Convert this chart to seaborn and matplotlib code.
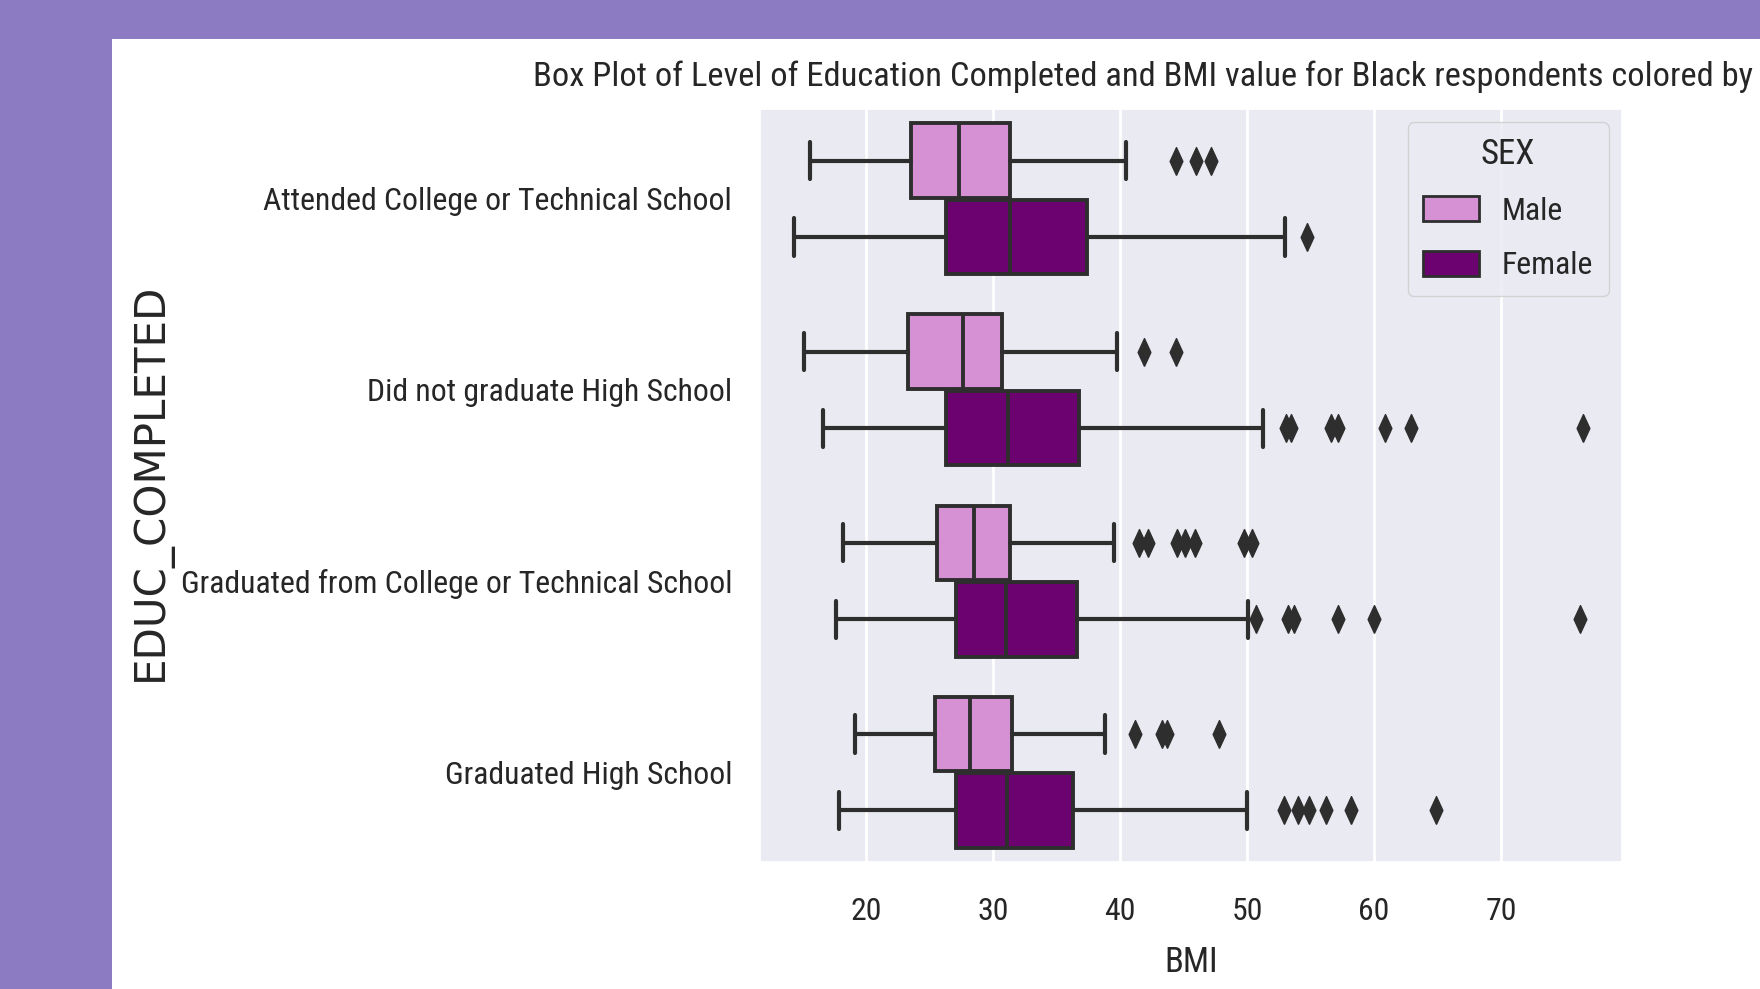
import matplotlib
matplotlib.use("Agg")
import matplotlib.pyplot as plt
import seaborn as sns
from matplotlib import font_manager
from matplotlib.patches import Patch, Rectangle

# ---- data -------------------------------------------------------------
categories = [
    "Attended College or Technical School",
    "Did not graduate High School",
    "Graduated from College or Technical School",
    "Graduated High School",
]
sexes = ["Male", "Female"]
bmi_ticks = [20, 30, 40, 50, 60, 70]

male_whislo = [15.6, 15.1, 18.2, 19.1]
male_q1 = [23.5, 23.3, 25.6, 25.4]
male_med = [27.3, 27.6, 28.5, 28.2]
male_q3 = [31.3, 30.7, 31.3, 31.5]
male_whishi = [40.5, 39.8, 39.5, 38.8]
male_fliers = [
    [44.4, 46.0, 47.2],
    [41.9, 44.4],
    [41.5, 42.2, 44.5, 45.1, 45.9, 49.8, 50.4],
    [41.2, 43.3, 43.7, 47.8],
]

female_whislo = [14.3, 16.6, 17.6, 17.9]
female_q1 = [26.3, 26.3, 27.1, 27.1]
female_med = [31.3, 31.2, 31.0, 31.1]
female_q3 = [37.4, 36.8, 36.6, 36.3]
female_whishi = [53.0, 51.3, 50.1, 50.0]
female_fliers = [
    [54.7],
    [53.1, 53.5, 56.6, 57.2, 60.9, 62.9, 76.5],
    [50.7, 53.2, 53.7, 57.2, 60.0, 76.2],
    [52.9, 54.0, 54.9, 56.2, 58.2, 64.9],
]

title = ("Box Plot of Level of Education Completed and BMI value "
         "for Black respondents colored by")

# ---- style ------------------------------------------------------------
sns.set_theme(style="darkgrid")


def narrow_face():
    """Pick an installed narrow sans face (name, stretch), else plain Liberation Sans."""
    prefs = ["Liberation Sans Narrow", "Arial Narrow", "Roboto Condensed",
             "Open Sans Condensed", "Noto Sans", "DejaVu Sans", "Open Sans", "Roboto"]
    found = {}
    for f in font_manager.fontManager.ttflist:
        is_narrow = (f.stretch in ("condensed", "semi-condensed", "extra-condensed")
                     or "Narrow" in f.name or "Condensed" in f.name)
        try:
            light_enough = int(f.weight) < 600
        except (TypeError, ValueError):
            light_enough = str(f.weight).lower() in ("normal", "regular", "book", "medium")
        if is_narrow and light_enough and f.style == "normal":
            found.setdefault(f.name, f.stretch)
    for p in prefs:
        if p in found:
            return p, found[p]
    if found:
        name = next(iter(found))
        return name, found[name]
    return "Liberation Sans", "normal"


face, stretch = narrow_face()
plt.rcParams["font.family"] = [face, "DejaVu Sans"]
plt.rcParams["font.stretch"] = stretch

palette = {"Male": "#d690d4", "Female": "#6c0270"}
line_gray = "#2e2e2e"
diamond = [(0, -1), (0.46, 0), (0, 1), (-0.46, 0), (0, -1)]

# ---- figure -----------------------------------------------------------
W, H = 1760, 989
DPI = 100
fig = plt.figure(figsize=(W / DPI, H / DPI), dpi=DPI, facecolor="#8c7bc2")
fig.add_artist(Rectangle((112 / W, 0), 1, 1 - 39 / H, transform=fig.transFigure,
                         facecolor="white", edgecolor="none", zorder=-1))

ax_left, ax_right, ax_top, ax_bottom = 760, 1622, 109, 862
ax = fig.add_axes([ax_left / W, 1 - ax_bottom / H,
                   (ax_right - ax_left) / W, (ax_bottom - ax_top) / H])

series = {
    "Male": (male_whislo, male_q1, male_med, male_q3, male_whishi, male_fliers, -0.2),
    "Female": (female_whislo, female_q1, female_med, female_q3, female_whishi, female_fliers, 0.2),
}

for sex in sexes:
    lo, q1, med, q3, hi, fl, offset = series[sex]
    stats = [dict(whislo=lo[i], q1=q1[i], med=med[i], q3=q3[i], whishi=hi[i],
                  fliers=fl[i], label=categories[i]) for i in range(len(categories))]
    kw = dict(
        positions=[i + offset for i in range(len(categories))],
        widths=0.39,
        patch_artist=True,
        manage_ticks=False,
        boxprops=dict(facecolor=palette[sex], edgecolor=line_gray, linewidth=2.8),
        medianprops=dict(color=line_gray, linewidth=2.8),
        whiskerprops=dict(color=line_gray, linewidth=3),
        capprops=dict(color=line_gray, linewidth=3),
        flierprops=dict(marker=diamond, markerfacecolor=line_gray,
                        markeredgecolor=line_gray, markersize=20, linestyle="none"),
    )
    try:
        ax.bxp(stats, orientation="horizontal", **kw)
    except TypeError:
        ax.bxp(stats, vert=False, **kw)

ax.set_xlim(11.64, 79.54)
ax.set_ylim(len(categories) - 0.53, -0.47)
ax.set_xticks(bmi_ticks)
ax.set_xticklabels([str(t) for t in bmi_ticks])
ax.set_yticks(range(len(categories)))
ax.set_yticklabels(categories)
ax.grid(axis="y", visible=False)
ax.grid(axis="x", color="white", linewidth=2)
ax.tick_params(axis="both", labelsize=24, length=0)

xlab = ax.set_xlabel("BMI", fontsize=26)
ylab = ax.set_ylabel("EDUC_COMPLETED", fontsize=28, family="DejaVu Sans",
                     fontstretch="normal")
ttl = fig.text(533 / W, 1 - 86 / H, title, ha="left", va="baseline", fontsize=26)

# ---- size the texts to the intended pixel widths ------------------------
fig.canvas.draw()
r = fig.canvas.get_renderer()
px2pt = 72 / DPI

w_tick = ax.get_yticklabels()[0].get_window_extent(r).width
tick_size = 24 * 471 / w_tick
ax.tick_params(axis="both", labelsize=tick_size)
xlab.set_fontsize(tick_size * 12 / 11)
ttl.set_fontsize(26 * 1220 / ttl.get_window_extent(r).width)
ylab.set_fontsize(28 * 398 / ylab.get_window_extent(r).height)

fig.canvas.draw()
# y tick labels end 28 px left of the axes; x tick labels centred 49 px below
ax.tick_params(axis="y", pad=28 * px2pt)
h_xt = ax.get_xticklabels()[0].get_window_extent(r).height
ax.tick_params(axis="x", pad=max(2, (49 - h_xt / 2)) * px2pt)
fig.canvas.draw()
xt_bottom = H - ax.get_xticklabels()[0].get_window_extent(r).y0
h_xl = xlab.get_window_extent(r).height
ax.xaxis.labelpad = max(0, (962 - h_xl / 2) - xt_bottom) * px2pt
ax.yaxis.set_label_coords((172 - ax_left) / (ax_right - ax_left), 0.505)

handles = [Patch(facecolor=palette[s], edgecolor=line_gray, linewidth=2) for s in sexes]
ax.legend(handles, sexes, title="SEX", loc="upper right", fontsize=tick_size,
          title_fontsize=tick_size * 12 / 11, handlelength=1.75, handleheight=0.85,
          handletextpad=0.7, labelspacing=0.78, borderpad=0.5,
          borderaxespad=0.42)

fig.savefig("out.png", dpi=DPI, facecolor=fig.get_facecolor())
